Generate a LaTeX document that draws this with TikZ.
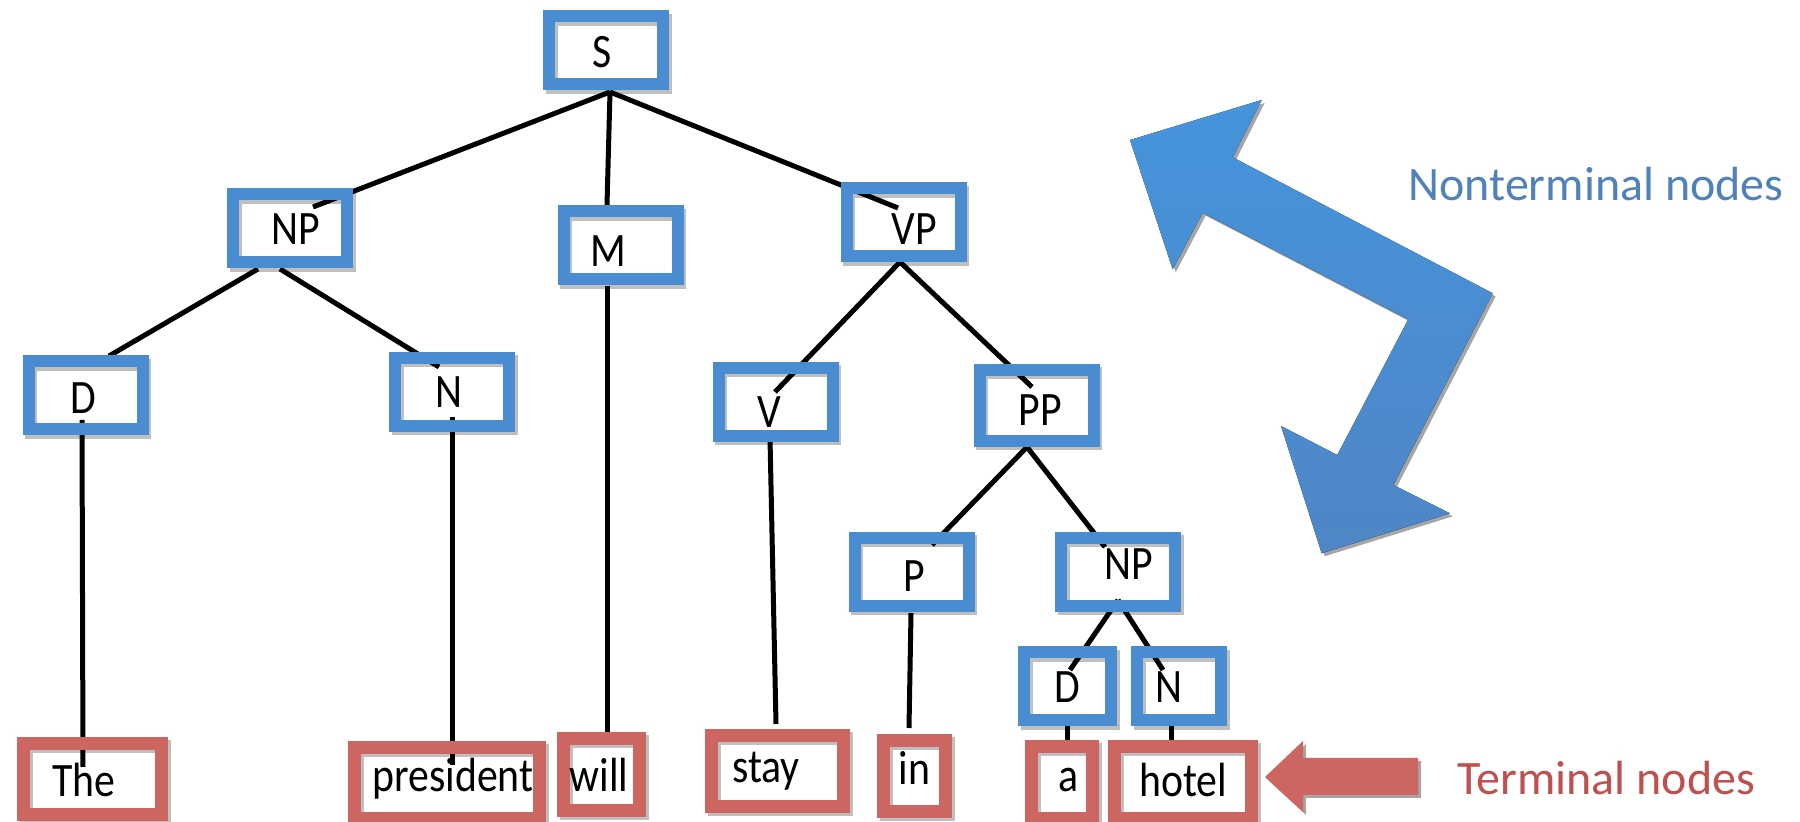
\documentclass[tikz,border=0pt]{standalone}
\usepackage{fontspec}
\setmainfont{Carlito}
\newfontfamily\treefont[FakeStretch=0.87]{Carlito}
\usetikzlibrary{calc,backgrounds}

\definecolor{ntblue}{HTML}{4A8CD2}
\definecolor{tmred}{HTML}{CD6660}
\definecolor{ntlegend}{HTML}{4F81BD}
\definecolor{tmlegend}{HTML}{C0504D}
\definecolor{arrowtop}{HTML}{4594DC}
\definecolor{arrowbot}{HTML}{4F86C6}

% label inside a box: horizontal shift (px), baseline drop (pt), text
\newcommand\lbl[3]{\raisebox{-#2pt}{\kern#1pt #3}}

\tikzset{
  treebox/.style={rectangle, inner sep=0pt, outer sep=0pt,
    text height=0pt, text depth=0pt,
    font=\treefont\fontsize{24pt}{28pt}\selectfont,
    preaction={draw=black, opacity=0.25,
      transform canvas={shift={(1.3pt,-1.7pt)}}}},
  ntbox/.style={treebox, draw=ntblue, line width=6pt,
    minimum width=57pt, minimum height=34pt},
  tmbox/.style={treebox, draw=tmred, line width=6.5pt,
    minimum height=35.5pt},
  edge/.style={line width=2.5pt, black},
  legend/.style={anchor=base west, inner sep=0pt,
    font=\fontsize{24pt}{28pt}\selectfont},
  bigarrow/.style={preaction={fill=black, opacity=0.35,
      transform canvas={shift={(1.5pt,-1.5pt)}}}},
}

\begin{document}
\begin{tikzpicture}[x=0.5pt,y=-0.5pt]
\useasboundingbox (0,0) rectangle (1800,822);

% nonterminal nodes
\node[ntbox] (S)   at (606,50.5)   {\lbl{-4}{8.75}{S}};
\node[ntbox] (NP)  at (290,228.5)  {\lbl{6}{8.25}{NP}};
\node[ntbox] (M)   at (620.5,245.5){\lbl{-12.5}{10.75}{M}};
\node[ntbox] (VP)  at (903.5,222.5){\lbl{10.5}{11}{VP}};
\node[ntbox] (D)   at (85.5,395.5) {\lbl{-2.5}{9.25}{D}};
\node[ntbox] (N)   at (452,392)    {\lbl{-3}{8}{N}};
\node[ntbox] (V)   at (775.5,402)  {\lbl{-6.5}{13}{V}};
\node[ntbox, minimum height=35.5pt] (PP) at (1036.5,405.5) {\lbl{3.5}{10.25}{PP}};
\node[ntbox] (P)   at (911.5,572)  {\lbl{2.5}{10}{P}};
\node[ntbox] (NPb) at (1118,572)   {\lbl{11}{4}{NP}};
\node[ntbox, minimum width=43.5pt] (Db) at (1067.5,686.5) {\lbl{0}{8.25}{D}};
\node[ntbox, minimum width=42pt]   (Nb) at (1179,686.5)   {\lbl{-10}{8.25}{N}};

% terminal nodes
\node[tmbox, minimum width=69pt]   (the)       at (92.5,779)   {\lbl{-8.5}{9}{The}};
\node[tmbox, minimum width=92.5pt] (president) at (447,783)    {\lbl{6}{4.5}{president}};
\node[tmbox, minimum width=38pt, minimum height=36pt] (will) at (601.5,774.5) {\lbl{-2.5}{8.75}{will}};
\node[tmbox, minimum width=66pt]   (stay)      at (777.5,771)  {\lbl{-11.5}{6}{stay}};
\node[tmbox, minimum width=31pt]   (in)        at (914.5,776)  {\lbl{0}{4.5}{in}};
\node[tmbox, minimum width=30.5pt, minimum height=36pt] (a) at (1062,782.5) {\lbl{6}{4.75}{a}};
\node[tmbox, minimum width=68.5pt, minimum height=36pt] (hotel) at (1183,782.5) {\lbl{0}{7.25}{hotel}};

% branches, beneath the box frames
\begin{scope}[on background layer]
  \fill[white] (0,0) rectangle (1800,822);
  \draw[edge] ($(S.center)+(4,41.5)$) -- ($(NP.center)+(23,-21.5)$);
  \draw[edge] ($(S.center)+(4,41.5)$) -- ($(M.center)+(-13.5,-40.5)$);
  \draw[edge] ($(S.center)+(4,41.5)$) -- ($(VP.center)+(-5.5,-14.5)$);
  \draw[edge] ($(NP.center)+(-32,40.5)$) -- ($(D.center)+(23.5,-39.5)$);
  \draw[edge] ($(NP.center)+(-10,40.5)$) -- ($(N.center)+(-13,-25)$);
  \draw[edge] ($(M.center)+(-13.5,40.5)$) -- ($(will.center)+(5.5,-33.5)$);
  \draw[edge] ($(D.center)+(-3.5,24.5)$) -- ($(the.center)+(-9.5,-12)$);
  \draw[edge] ($(N.center)+(0,25)$) -- ($(president.center)+(5,-18)$);
  \draw[edge] ($(VP.center)+(-3.5,39.5)$) -- ($(V.center)+(-0.5,-10)$);
  \draw[edge] ($(VP.center)+(-3.5,39.5)$) -- ($(PP.center)+(-4.5,-18.5)$);
  \draw[edge] ($(V.center)+(-5.5,36)$) -- ($(stay.center)+(-1.5,-47)$);
  \draw[edge] ($(PP.center)+(-9.5,41.5)$) -- ($(P.center)+(20.5,-27)$);
  \draw[edge] ($(PP.center)+(-9.5,41.5)$) -- ($(NPb.center)+(-13,-25)$);
  \draw[edge] ($(P.center)+(-0.5,41)$) -- ($(in.center)+(-5.5,-48)$);
  \draw[edge] ($(NPb.center)+(0,28)$) -- ($(Db.center)+(2.5,-16.5)$);
  \draw[edge] ($(NPb.center)+(0,28)$) -- ($(Nb.center)+(-16,-16.5)$);
  \draw[edge] ($(Db.center)+(-0.5,33.5)$) -- ($(a.center)+(5,-30.5)$);
  \draw[edge] ($(Nb.center)+(-8,33.5)$) -- ($(hotel.center)+(-12,-37.5)$);
\end{scope}

% bent double-headed arrow pointing at the nonterminal nodes
\fill[bigarrow, top color=arrowtop, bottom color=arrowbot]
  (1130,140) -- (1261.7,100) -- (1232.7,157.3) -- (1492.7,293.3)
  -- (1393.3,485) -- (1450,513.3) -- (1321.7,553.3) -- (1281,426)
  -- (1337.3,455) -- (1408.3,319.3) -- (1202.7,212.7) -- (1172.7,269.3)
  -- cycle;

% arrow pointing at the terminal nodes
\fill[bigarrow, tmred]
  (1265,777) -- (1303,741) -- (1303,758) -- (1418,758)
  -- (1418,795) -- (1303,795) -- (1303,812) -- cycle;

\node[legend, text=ntlegend] (ntlabel) at (1408,201) {Nonterminal nodes};
\node[legend, text=tmlegend] (tmlabel) at (1457,795) {Terminal nodes};
\end{tikzpicture}
\end{document}
